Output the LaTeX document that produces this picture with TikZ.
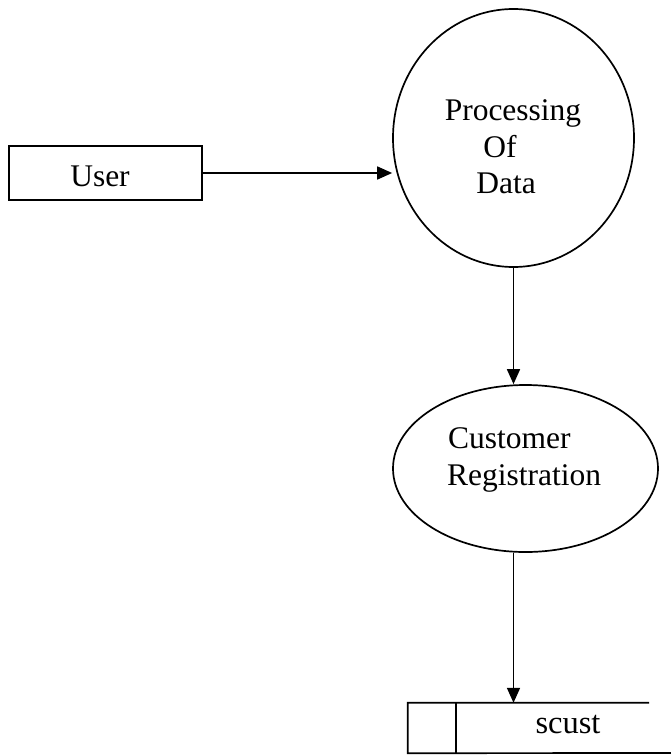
\documentclass[tikz,border=0pt]{standalone}
\usepackage{fontspec}
\setmainfont{Liberation Serif}
\usetikzlibrary{shapes.geometric,arrows.meta,calc}
\tikzset{
  shapeline/.style={draw=black, line width=1.7pt},
  flow/.style={draw=black, line width=1.7pt, -{Triangle[length=15pt,width=13pt]}},
  txt/.style={inner sep=0pt, font=\fontsize{31.5}{37}\selectfont, anchor=base},
  proc/.style={shapeline, ellipse, inner sep=0pt},
}
\begin{document}
\begin{tikzpicture}[x=1pt,y=-1pt]
\useasboundingbox (0,0) rectangle (671,755);
% entity
\node[shapeline, rectangle, inner sep=0pt, minimum width=193pt, minimum height=54pt] (user) at (105.5,173) {};
\node[txt] (usertxt) at (100,186) {User};
% process 1
\node[proc, minimum width=241pt, minimum height=258pt] (procdata) at (513.5,138) {};
\node[txt] (t1) at (513,120) {Processing};
\node[txt] (t2) at (500,157) {Of};
\node[txt] (t3) at (506,193) {Data};
% process 2
\node[proc, minimum width=265pt, minimum height=167pt] (reg) at (525.5,468.5) {};
\node[txt, anchor=base west] (t4) at (448,448) {Customer};
\node[txt, anchor=base west] (t5) at (447,485) {Registration};
% data store
\node[inner sep=0pt, minimum width=241pt, minimum height=50pt] (store) at (528.5,728) {};
\coordinate (storediv) at (456,728);
\coordinate (storeend) at (671,753);
\draw[shapeline] (store.north east) -- (store.north west) -- (store.south west) -- (storeend);
\draw[shapeline] (storediv |- store.north) -- (storediv |- store.south);
\node[txt, font=\fontsize{32.5}{38}\selectfont] (t6) at (568,733) {scust};
% connectors
\draw[flow] (user.east) -- (user.east -| procdata.west);
\draw[flow] (procdata.south) -- (procdata.south |- reg.north);
\draw[flow] (procdata.south |- reg.south) -- (procdata.south |- store.north);
\end{tikzpicture}
\end{document}
